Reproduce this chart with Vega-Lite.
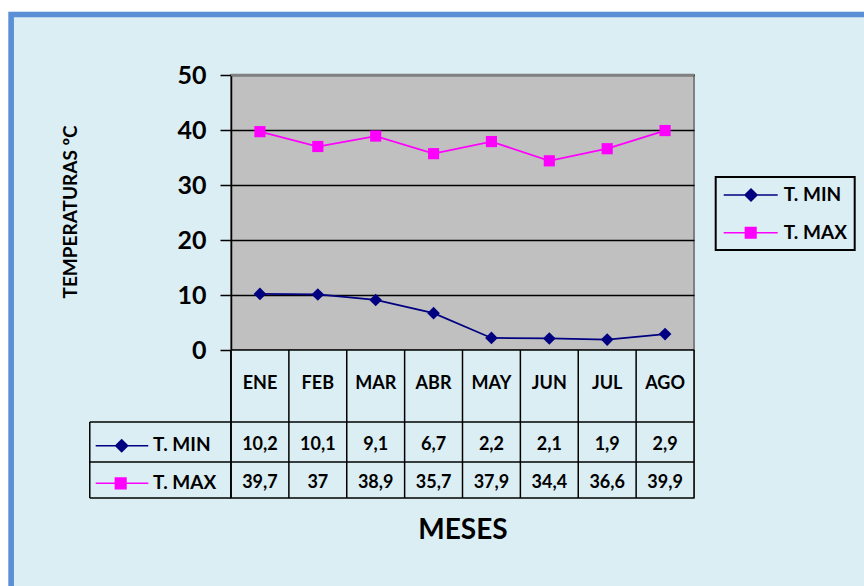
{
  "$schema": "https://vega.github.io/schema/vega-lite/v6.json",
  "width": 463,
  "height": 423,
  "autosize": {"type": "none"},
  "padding": {"left": 231, "top": 75, "right": 170, "bottom": 88},
  "background": "#DBEEF4",
  "config": {
    "view": {"fill": "#C0C0C0", "stroke": "#808080", "strokeWidth": 2},
    "locale": {"number": {"decimal": ",", "thousands": ".", "grouping": [3], "currency": ["", " €"]}},
    "text": {"font": "Lato", "fontWeight": "bold", "fontSize": 18, "color": "black", "fill": "black", "baseline": "middle", "align": "center"}
  },
  "data": {"values": [
    {"mes": "ENE", "serie": "T. MIN", "temp": 10.2},
    {"mes": "FEB", "serie": "T. MIN", "temp": 10.1},
    {"mes": "MAR", "serie": "T. MIN", "temp": 9.1},
    {"mes": "ABR", "serie": "T. MIN", "temp": 6.7},
    {"mes": "MAY", "serie": "T. MIN", "temp": 2.2},
    {"mes": "JUN", "serie": "T. MIN", "temp": 2.1},
    {"mes": "JUL", "serie": "T. MIN", "temp": 1.9},
    {"mes": "AGO", "serie": "T. MIN", "temp": 2.9},
    {"mes": "ENE", "serie": "T. MAX", "temp": 39.7},
    {"mes": "FEB", "serie": "T. MAX", "temp": 37},
    {"mes": "MAR", "serie": "T. MAX", "temp": 38.9},
    {"mes": "ABR", "serie": "T. MAX", "temp": 35.7},
    {"mes": "MAY", "serie": "T. MAX", "temp": 37.9},
    {"mes": "JUN", "serie": "T. MAX", "temp": 34.4},
    {"mes": "JUL", "serie": "T. MAX", "temp": 36.6},
    {"mes": "AGO", "serie": "T. MAX", "temp": 39.9}
  ]},
  "resolve": {"scale": {"x": "independent"}},
  "layer": [
    {
      "data": {"values": [{}]},
      "mark": {"type": "rect", "filled": false, "stroke": "white", "strokeWidth": 30},
      "encoding": {
        "x": {"datum": -4.107, "type": "quantitative", "scale": {"domain": [0, 8], "nice": false, "zero": false}, "axis": null},
        "x2": {"datum": 12},
        "y": {"datum": 64.24, "type": "quantitative", "scale": {"domain": [-26.9, 50], "nice": false, "zero": false},
          "axis": {"values": [0, 10, 20, 30, 40, 50], "title": "TEMPERATURAS ºC", "titleFont": "Lato", "titleFontSize": 19, "titleFontWeight": "bold", "titleColor": "black", "titleAngle": 270, "titleX": -161, "titleY": 136.4, "titleAlign": "center", "titleBaseline": "middle",
            "labelFont": "Lato", "labelFontSize": 25, "labelFontWeight": "bold", "labelColor": "black", "labelPadding": 14, "labelFlush": false, "labelOverlap": false,
            "tickSize": 11, "tickColor": "black", "tickWidth": 1.5, "domainColor": "black", "domainWidth": 1.5,
            "grid": true, "gridWidth": 1.4, "gridColor": "black"}},
        "y2": {"datum": -60}
      }
    },
    {
      "data": {"values": [{}]},
      "mark": {"type": "rect", "filled": false, "stroke": "#5B8FD6", "strokeWidth": 5.6},
      "encoding": {
        "x": {"datum": -3.7987, "type": "quantitative", "scale": {"domain": [0, 8], "nice": false, "zero": false}, "axis": null},
        "x2": {"datum": 12},
        "y": {"datum": 61.0, "type": "quantitative"},
        "y2": {"datum": -60}
      }
    },
    {
      "data": {"values": [{}]},
      "mark": {"type": "rect", "fill": "#DBEEF4", "strokeWidth": 0},
      "encoding": {
        "x": {"datum": 0, "type": "quantitative", "scale": {"domain": [0, 8], "nice": false, "zero": false}, "axis": null},
        "x2": {"datum": 8},
        "y": {"datum": 0, "type": "quantitative"},
        "y2": {"datum": -27.2}
      }
    },
    {
      "data": {"values": [{}]},
      "mark": {"type": "rule", "color": "#808080", "strokeWidth": 2.5},
      "encoding": {
        "x": {"datum": 0, "type": "quantitative", "scale": {"domain": [0, 8], "nice": false, "zero": false}, "axis": null},
        "x2": {"datum": 8},
        "y": {"datum": 50, "type": "quantitative"}
      }
    },
    {
      "data": {"values": [{}]},
      "mark": {"type": "rule", "color": "black", "strokeWidth": 1.5},
      "encoding": {
        "x": {"datum": 0, "type": "quantitative", "scale": {"domain": [0, 8], "nice": false, "zero": false}, "axis": null},
        "x2": {"datum": 8},
        "y": {"datum": 0, "type": "quantitative"}
      }
    },
    {
      "data": {"values": [{}]},
      "mark": {"type": "rule", "color": "black", "strokeWidth": 1.5},
      "encoding": {
        "x": {"datum": 0, "type": "quantitative", "scale": {"domain": [0, 8], "nice": false, "zero": false}, "axis": null},
        "y": {"datum": 0, "type": "quantitative"},
        "y2": {"datum": -26.9}
      }
    },
    {
      "data": {"values": [{}]},
      "mark": {"type": "rule", "color": "black", "strokeWidth": 1.5},
      "encoding": {
        "x": {"datum": -2.44, "type": "quantitative", "scale": {"domain": [0, 8], "nice": false, "zero": false}, "axis": null},
        "x2": {"datum": 8},
        "y": {"datum": -13.09, "type": "quantitative"}
      }
    },
    {
      "data": {"values": [{}]},
      "mark": {"type": "rule", "color": "black", "strokeWidth": 1.5},
      "encoding": {
        "x": {"datum": -2.44, "type": "quantitative", "scale": {"domain": [0, 8], "nice": false, "zero": false}, "axis": null},
        "x2": {"datum": 8},
        "y": {"datum": -20.36, "type": "quantitative"}
      }
    },
    {
      "data": {"values": [{}]},
      "mark": {"type": "rule", "color": "black", "strokeWidth": 1.5},
      "encoding": {
        "x": {"datum": -2.44, "type": "quantitative", "scale": {"domain": [0, 8], "nice": false, "zero": false}, "axis": null},
        "x2": {"datum": 8},
        "y": {"datum": -26.9, "type": "quantitative"}
      }
    },
    {
      "data": {"values": [{}]},
      "mark": {"type": "rule", "color": "black", "strokeWidth": 1.5},
      "encoding": {
        "x": {"datum": -2.44, "type": "quantitative", "scale": {"domain": [0, 8], "nice": false, "zero": false}, "axis": null},
        "y": {"datum": -13.09, "type": "quantitative"},
        "y2": {"datum": -26.9}
      }
    },
    {
      "data": {"values": [{}]},
      "mark": {"type": "point", "filled": true, "fill": "#000080", "stroke": "#000080", "strokeWidth": 1.5, "opacity": 1, "size": 400, "shape": "M-2.6,0H2.66M0,-0.6L0.6,0L0,0.6L-0.6,0Z"},
      "encoding": {
        "x": {"datum": -1.889, "type": "quantitative", "scale": {"domain": [0, 8], "nice": false, "zero": false}, "axis": null},
        "y": {"datum": -17.4, "type": "quantitative"}
      }
    },
    {
      "data": {"values": [{}]},
      "mark": {"type": "point", "filled": true, "fill": "#FF00FF", "stroke": "#FF00FF", "strokeWidth": 1.5, "opacity": 1, "size": 400, "shape": "M-2.5,0H2.76M-0.53,-0.53H0.53V0.53H-0.53Z"},
      "encoding": {
        "x": {"datum": -1.906, "type": "quantitative", "scale": {"domain": [0, 8], "nice": false, "zero": false}, "axis": null},
        "y": {"datum": -24.24, "type": "quantitative"}
      }
    },
    {
      "transform": [{"filter": "datum.mes === 'ENE' && datum.serie === 'T. MIN'"}],
      "mark": {"type": "text", "align": "left", "fontSize": 19},
      "encoding": {
        "x": {"datum": -1.347, "type": "quantitative", "scale": {"domain": [0, 8], "nice": false, "zero": false}, "axis": null},
        "y": {"datum": -17.27, "type": "quantitative"},
        "text": {"field": "serie"}
      }
    },
    {
      "transform": [{"filter": "datum.mes === 'ENE' && datum.serie === 'T. MAX'"}],
      "mark": {"type": "text", "align": "left", "fontSize": 19},
      "encoding": {
        "x": {"datum": -1.347, "type": "quantitative", "scale": {"domain": [0, 8], "nice": false, "zero": false}, "axis": null},
        "y": {"datum": -24.13, "type": "quantitative"},
        "text": {"field": "serie"}
      }
    },
    {
      "mark": {"type": "line", "strokeWidth": 1.75},
      "encoding": {
        "x": {"field": "mes", "type": "nominal", "sort": null, "scale": {"type": "band", "paddingInner": 0, "paddingOuter": 0},
          "axis": {"title": "MESES", "labels": false, "ticks": false, "domain": false, "grid": false, "titleFont": "Lato", "titleFontSize": 28, "titleFontWeight": "bold", "titleColor": "black", "titleBaseline": "alphabetic", "titlePadding": 40}},
        "y": {"field": "temp", "type": "quantitative"},
        "color": {"field": "serie", "type": "nominal", "scale": {"domain": ["T. MIN", "T. MAX"], "range": ["#000080", "#FF00FF"]},
          "legend": {"orient": "none", "direction": "vertical", "legendX": 484.7, "legendY": 102, "title": null, "padding": 7, "fillColor": "#DBEEF4", "strokeColor": "black",
            "labelFont": "Lato", "labelFontSize": 19, "labelFontWeight": "bold", "labelColor": "black", "labelOffset": 39, "rowPadding": 16.7, "symbolSize": 400, "symbolStrokeWidth": 1.5,
            "encode": {
              "legend": {"update": {"strokeWidth": {"value": 2}}},
              "symbols": {"update": {
                "shape": {"signal": "datum.value === 'T. MIN' ? 'M-1,0H4.4M1.73,-0.6L2.33,0L1.73,0.6L1.13,0Z' : 'M-1,0H4.4M1.17,-0.53H2.23V0.53H1.17Z'"},
                "fill": {"signal": "datum.value === 'T. MIN' ? '#000080' : '#FF00FF'"},
                "stroke": {"signal": "datum.value === 'T. MIN' ? '#000080' : '#FF00FF'"},
                "size": {"value": 400},
                "strokeWidth": {"value": 1.5},
                "opacity": {"value": 1}
              }}}}}
      }
    },
    {
      "transform": [{"filter": "datum.serie === 'T. MIN'"}],
      "mark": {"type": "point", "filled": true, "opacity": 1, "size": 160, "fill": "#000080", "shape": "M0,-1L1,0L0,1L-1,0Z"},
      "encoding": {
        "x": {"field": "mes", "type": "nominal", "sort": null, "scale": {"type": "band", "paddingInner": 0, "paddingOuter": 0}, "axis": null},
        "y": {"field": "temp", "type": "quantitative"}
      }
    },
    {
      "transform": [{"filter": "datum.serie === 'T. MAX'"}],
      "mark": {"type": "point", "filled": true, "opacity": 1, "size": 125, "fill": "#FF00FF", "shape": "square"},
      "encoding": {
        "x": {"field": "mes", "type": "nominal", "sort": null, "scale": {"type": "band", "paddingInner": 0, "paddingOuter": 0}, "axis": null},
        "y": {"field": "temp", "type": "quantitative"}
      }
    },
    {
      "transform": [{"filter": "datum.serie === 'T. MIN'"}],
      "mark": {"type": "rule", "color": "black", "strokeWidth": 1.5},
      "encoding": {
        "x": {"field": "mes", "type": "nominal", "sort": null, "bandPosition": 0, "scale": {"type": "band", "paddingInner": 0, "paddingOuter": 0}, "axis": null},
        "y": {"datum": 0, "type": "quantitative"},
        "y2": {"datum": -26.9}
      }
    },
    {
      "transform": [{"filter": "datum.serie === 'T. MIN' && datum.mes === 'AGO'"}],
      "mark": {"type": "rule", "color": "black", "strokeWidth": 1.5},
      "encoding": {
        "x": {"field": "mes", "type": "nominal", "sort": null, "bandPosition": 1, "scale": {"type": "band", "paddingInner": 0, "paddingOuter": 0}, "axis": null},
        "y": {"datum": 0, "type": "quantitative"},
        "y2": {"datum": -26.9}
      }
    },
    {
      "transform": [{"filter": "datum.serie === 'T. MIN'"}],
      "mark": {"type": "text"},
      "encoding": {
        "x": {"field": "mes", "type": "nominal", "sort": null, "scale": {"type": "band", "paddingInner": 0, "paddingOuter": 0}, "axis": null},
        "y": {"datum": -6.18, "type": "quantitative"},
        "text": {"field": "mes"}
      }
    },
    {
      "transform": [{"filter": "datum.serie === 'T. MIN'"}],
      "mark": {"type": "text"},
      "encoding": {
        "x": {"field": "mes", "type": "nominal", "sort": null, "scale": {"type": "band", "paddingInner": 0, "paddingOuter": 0}, "axis": null},
        "y": {"datum": -17.27, "type": "quantitative"},
        "text": {"field": "temp", "format": ".3~r"}
      }
    },
    {
      "transform": [{"filter": "datum.serie === 'T. MAX'"}],
      "mark": {"type": "text"},
      "encoding": {
        "x": {"field": "mes", "type": "nominal", "sort": null, "scale": {"type": "band", "paddingInner": 0, "paddingOuter": 0}, "axis": null},
        "y": {"datum": -24.2, "type": "quantitative"},
        "text": {"field": "temp", "format": ".3~r"}
      }
    }
  ]
}
